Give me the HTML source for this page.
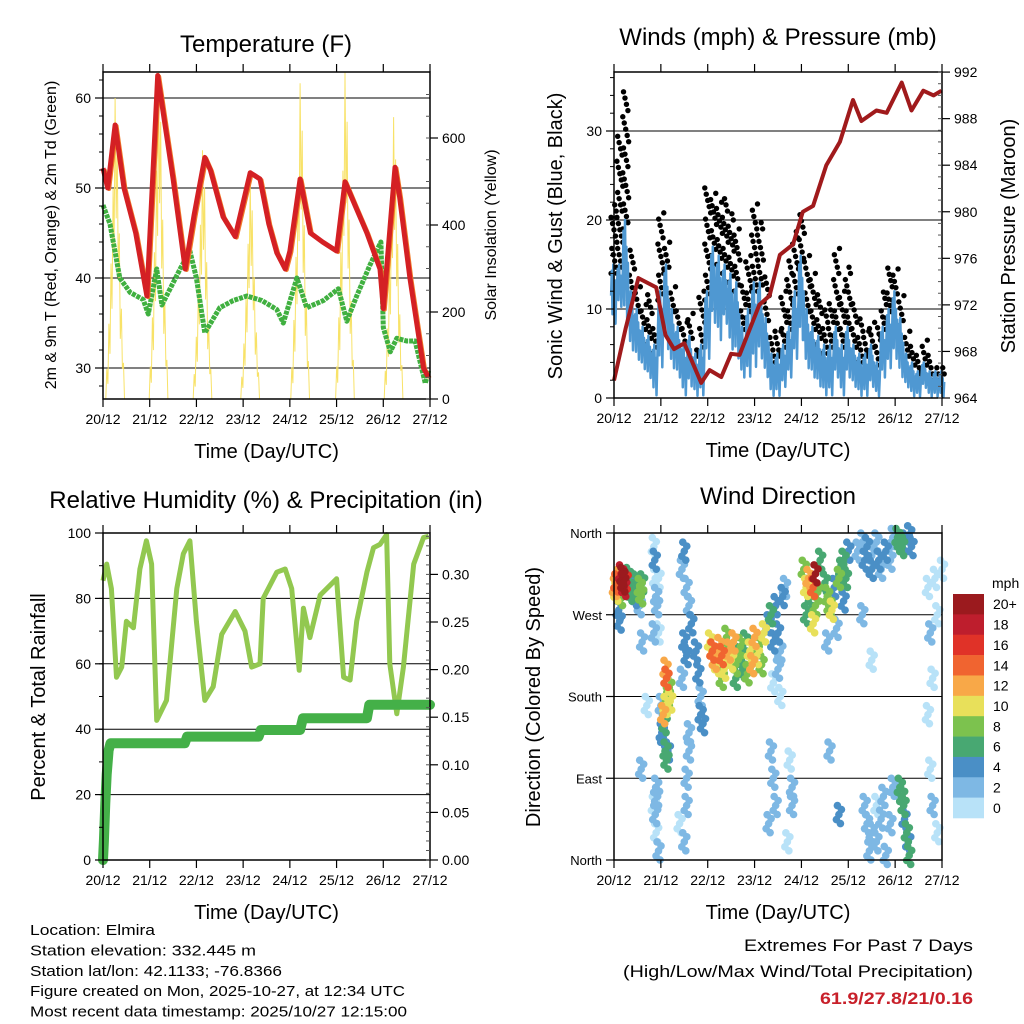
<!DOCTYPE html>
<html><head><meta charset="utf-8"><style>
html,body{margin:0;padding:0;background:#fff}
svg{display:block;font-family:"Liberation Sans",sans-serif}
</style></head><body>
<svg id="root" width="1024" height="1024" viewBox="0 0 1024 1024"></svg>
<script>
// ---------- DATA ----------
const dayLabels=["20/12","21/12","22/12","23/12","24/12","25/12","26/12","27/12"];
const tTimes=[0,0.1,0.26,0.45,0.7,0.94,1.17,1.3,1.5,1.76,1.95,2.18,2.3,2.57,2.83,3.15,3.36,3.55,3.72,3.9,4.0,4.22,4.44,4.7,5.0,5.18,5.4,5.65,5.93,6.0,6.25,6.35,6.57,6.86,6.96];
const tVals=[52.2,50,57,50,45,38,62.5,58,51,41,47,53.4,52,46.8,44.6,51.7,51,46,42.8,41,43,51,45,44,43,50.7,48,45,41,36.6,52.3,49,40,30,29];
const dTimes=[0,0.15,0.36,0.58,0.86,0.97,1.15,1.26,1.65,1.86,2.0,2.18,2.5,2.79,3.08,3.4,3.72,3.86,4.15,4.36,4.72,5.04,5.22,5.43,5.72,5.95,6.0,6.15,6.29,6.5,6.68,6.9,6.97];
const dVals=[48.1,46,40,38.4,37.6,36,41,37,41,43,40,33.9,36.7,37.5,38,37.5,36.5,35,40,36.7,37.5,38.8,35.2,38,41.5,44,34.5,31.8,33.3,33,33,28.3,29.7];
const solarPeakDays=[0.26,1.19,2.13,3.15,4.22,5.18,6.22];
const solarPeaks=[692,750,572,510,726,750,648];
const windTimes=[0,0.125,0.25,0.375,0.5,0.625,0.75,0.875,1,1.125,1.25,1.375,1.5,1.625,1.75,1.875,2,2.125,2.25,2.375,2.5,2.625,2.75,2.875,3,3.125,3.25,3.375,3.5,3.625,3.75,3.875,4,4.125,4.25,4.375,4.5,4.625,4.75,4.875,5,5.125,5.25,5.375,5.5,5.625,5.75,5.875,6,6.125,6.25,6.375,6.5,6.625,6.75,6.875,7];
const windLow=[8,10,8,5,4,3,2,0,3,5,3,2,0,1,0,0,4,8,6,8,5,4,2,2,3,4,2,0,0,1,2,4,6,3,2,1,0,0,2,0,2,1,0,0,1,0,2,3,4,2,1,0,0,1,0,0,0];
const windHigh=[15,15,20,12,10,8,7,6,12,15,10,8,6,7,5,6,12,17,16,15,14,13,8,10,13,13,9,5,5,6,8,12,16,10,8,7,6,6,8,6,8,6,5,5,6,4,8,10,12,9,5,4,3,4,3,3,3];
const gust=[22,30,35,17,13,11,12,8,21,18,13,10,9,10,6,12,24,23,22,23,21,19,13,16,22,20,14,8,8,12,16,19,21,16,14,12,10,11,17,12,15,11,9,8,9,8,12,15,15,12,8,6,5,7,5,4,4];
const pTimes=[0,0.25,0.52,0.9,1.1,1.28,1.5,1.86,2.04,2.29,2.5,2.68,3.1,3.32,3.54,3.82,4.03,4.25,4.53,4.82,5.1,5.28,5.6,5.82,6.14,6.35,6.6,6.82,6.99];
const pVals=[965.5,970,974.3,973.5,969.4,968.2,968.7,965.3,966.4,965.8,967.8,967.7,972,972.8,976.3,977.2,980,980.5,984,986,989.6,987.8,988.7,988.5,991.1,988.7,990.4,990,990.4];
const rhTimes=[0,0.08,0.18,0.29,0.4,0.5,0.65,0.79,0.93,1.04,1.15,1.36,1.58,1.72,1.86,2.0,2.18,2.36,2.54,2.83,3.04,3.18,3.36,3.43,3.72,3.9,4.04,4.2,4.29,4.43,4.65,5.0,5.15,5.29,5.43,5.65,5.79,5.93,6.07,6.14,6.29,6.43,6.65,6.86,6.97];
const rhVals=[85.4,90.5,83,55.9,59,73,71,89,97.6,90.5,42.7,48.8,83,93.6,97.6,73,48.8,53,69,76,70,59,60,80,88,89,83,58,77,68,81,86,55.9,55,73,88,95.5,96.5,99.5,60,44.7,59,90.5,98.6,99];
const prTimes=[0,0.02,0.05,0.08,0.12,0.16,1.75,1.8,3.33,3.38,4.22,4.28,5.65,5.7,7.0];
const prVals=[0,0.02,0.06,0.09,0.115,0.1226,0.1226,0.1296,0.1296,0.1366,0.1366,0.149,0.149,0.163,0.163];
const dirPoints=[[0.02,300,12],[0.05,305,14],[0.05,295,10],[0.1,310,12],[0.12,298,9],[0.15,315,18],[0.18,312,20],[0.2,305,20],[0.22,300,18],[0.25,308,16],[0.15,290,8],[0.3,312,7],[0.32,300,6],[0.35,295,7],[0.4,300,5],[0.45,305,6],[0.5,296,7],[0.55,300,8],[0.58,292,8],[0.6,305,6],[0.45,290,4],[0.1,275,5],[0.12,263,4],[0.55,280,3],
[0.85,345,1],[0.87,330,4],[0.88,310,1],[0.9,290,2],[0.92,280,2],[0.95,310,1],[0.85,250,2],[0.6,240,2],[0.95,250,1],[0.58,100,2],[0.7,170,1],
[0.9,80,2],[0.88,50,2],[0.9,30,1],[0.95,10,2],[0.85,60,1],[0.92,70,3],
[1.1,210,12],[1.12,200,14],[1.15,180,9],[1.1,170,10],[1.05,160,13],[1.08,150,6],[1.05,135,5],[1.1,120,6],[1.12,110,7],[1.18,190,8],[1.2,175,10],[1.15,120,5],[1.0,170,3],[1.02,140,4],
[1.45,320,3],[1.5,340,4],[1.55,300,2],[1.6,280,3],[1.65,260,4],[1.5,240,4],[1.55,225,4],[1.45,200,3],[1.75,230,4],[1.8,205,4],[1.85,180,3],[1.85,160,4],[1.9,150,4],[1.6,140,2],[1.55,90,2],[1.55,60,2],[1.4,40,1],[1.5,20,2],[1.6,120,2],
[2.05,240,10],[2.1,230,14],[2.15,220,12],[2.2,215,10],[2.25,235,12],[2.3,225,14],[2.35,210,10],[2.4,245,8],[2.45,230,12],[2.5,220,10],[2.55,240,12],[2.6,215,8],[2.65,225,7],[2.7,235,8],[2.75,210,6],[2.8,240,7],[2.9,230,10],[2.95,215,12],[3.0,245,13],[3.05,225,11],[3.1,235,9],[3.15,215,8],[3.2,250,10],[2.3,200,8],[2.6,200,6],[2.85,205,9],
[3.3,260,5],[3.35,270,6],[3.4,240,4],[3.45,280,5],[3.5,250,4],[3.55,230,3],[3.6,290,4],[3.65,300,2],[3.5,210,2],[3.4,195,1],[3.55,180,1],
[3.35,120,2],[3.4,90,3],[3.45,60,2],[3.75,110,1],[3.8,80,2],[3.8,60,3],[3.3,40,3],[3.7,20,1],
[4.05,320,8],[4.1,300,10],[4.15,310,12],[4.2,290,6],[4.25,300,14],[4.3,315,20],[4.3,280,8],[4.35,295,9],[4.1,270,6],[4.25,260,10],[4.4,330,6],[4.5,305,7],[4.55,290,8],[4.6,280,8],[4.65,275,10],[4.7,300,4],[4.8,310,8],[4.85,320,7],[4.9,330,7],[4.95,310,6],[4.9,285,4],[5.0,340,4],[4.75,255,3],[4.55,240,3],
[5.2,340,3],[5.3,350,2],[5.35,330,4],[5.4,345,4],[5.5,335,3],[5.6,350,2],[5.7,320,2],[5.8,340,4],[5.9,330,2],[5.95,355,3],[5.5,320,4],[5.65,330,4],[5.3,270,2],[5.5,220,1],
[6.05,355,6],[6.1,350,6],[6.15,345,7],[6.2,350,5],[6.3,358,5],[6.35,345,4],
[5.35,60,3],[5.4,40,2],[5.45,10,3],[5.5,30,2],[5.6,20,3],[5.7,45,2],[5.75,70,3],[5.8,5,2],[5.6,60,1],[5.9,40,2],[5.95,80,2],[4.6,120,2],[4.8,50,4],
[6.1,80,6],[6.15,70,7],[6.18,60,6],[6.2,45,5],[6.25,30,6],[6.28,20,5],[6.3,5,6],
[6.7,300,1],[6.75,250,2],[6.8,200,1],[6.7,160,1],[6.75,100,1],[6.8,60,2],[6.9,30,1],[6.85,310,1],[6.9,270,1],[7.0,320,1]];
const speedLabels=["20+","18","16","14","12","10","8","6","4","2","0"];
const speedColors=["#9b1a1e","#be1e2d","#e03228","#f06430","#f8a848","#e8e05a","#7cc24e","#48a872","#4a8fc6","#7eb8e4","#b8e2f8"];

// ---------- HELPERS ----------
const NS="http://www.w3.org/2000/svg";
const root=document.getElementById('root');
function mk(tag,attrs,parent){const e=document.createElementNS(NS,tag);for(const k in attrs)e.setAttribute(k,attrs[k]);(parent||root).appendChild(e);return e;}
function txt(s,x,y,size,anchor,parent,extra){const e=mk('text',Object.assign({x:x,y:y,'font-size':size,'text-anchor':anchor||'middle',fill:'#000'},extra||{}),parent);e.textContent=s;return e;}
function path(pts){return pts.map((p,i)=>(i?'L':'M')+p[0].toFixed(1)+','+p[1].toFixed(1)).join('');}
function panel(name){
  const g=mk('g',{});
  
  
  return g;
}
function frame(g,L,R,T,B){
  const r=mk('rect',{x:L,y:T,width:R-L,height:B-T,fill:'none',stroke:'#000','stroke-width':1.5},g);
  
  
}
function xAxis(g,L,R,T,B,xf){
  const ax=mk('g',{},g);
  
  
  for(let d=0;d<=7;d++){
    const x=xf(d);
    mk('line',{x1:x,x2:x,y1:B,y2:B+8,stroke:'#000','stroke-width':1.2},ax);
    mk('line',{x1:x,x2:x,y1:T,y2:T-8,stroke:'#000','stroke-width':1.2},ax);
    const t=txt(dayLabels[d],x,B+25,14,'middle',ax);
    
    
  }
  const tt=txt('Time (Day/UTC)',(L+R)/2,B+59,20,'middle',ax);
  
  
}
function grid(g,L,R,ys){ys.forEach(y=>mk('line',{x1:L,x2:R,y1:y,y2:y,stroke:'#000','stroke-width':1},g));}
function yTicks(g,side,X,vals,yf,labels,minor,size){
  vals.forEach((v,i)=>{
    const y=yf(v);
    if(side==='L'){mk('line',{x1:X-8,x2:X,y1:y,y2:y,stroke:'#000','stroke-width':1.2},g);
      const t=txt(labels[i],X-12,y+5,size||14,'end',g);}
    else{mk('line',{x1:X,x2:X+8,y1:y,y2:y,stroke:'#000','stroke-width':1.2},g);
      const t=txt(labels[i],X+12,y+5,size||14,'start',g);}
  });
  (minor||[]).forEach(v=>{const y=yf(v);
    if(side==='L')mk('line',{x1:X-4,x2:X,y1:y,y2:y,stroke:'#000','stroke-width':1},g);
    else mk('line',{x1:X-4,x2:X,y1:y,y2:y,stroke:'#555','stroke-width':1},g);});
}
function rotLabel(g,s,x,y,size,name){
  const t=txt(s,x,y,size,'middle',g,{transform:'rotate(-90 '+x+' '+y+')'});
  
  
}
function range(a,b,s){const r=[];for(let v=a;v<=b+1e-9;v+=s)r.push(+v.toFixed(4));return r;}

// ---------- PANEL 1: TEMPERATURE ----------
(function(){
  const L=103,R=430,T=72,B=399;
  const x=d=>L+d*(R-L)/7, y=v=>368-(v-30)*9, ys=s=>B-s*0.435;
  const g=panel('temperature-panel');
  const ti=txt('Temperature (F)',266,52,24,'middle',g);
  
  
  grid(g,L,R,[30,40,50,60].map(y));
  const sg=mk('g',{},g);
  
  
  const shape=[0,0.1,0.05,0.25,0.15,0.45,0.3,0.7,0.5,1,0.6,0.85,0.4,0.55,0.2,0.3,0.1,0.12,0];
  solarPeakDays.forEach((c,i)=>{
    const n=shape.length-1;
    const pts=shape.map((f,k)=>[x(c-0.2+0.4*k/n),ys(solarPeaks[i]*f)]);
    const p=mk('path',{d:path(pts),fill:'none',stroke:'#f8e060','stroke-width':1,opacity:0.95},sg);
    
    
  });
  const td=mk('path',{d:path(dTimes.map((t,i)=>[x(t),y(dVals[i])])),fill:'none',stroke:'#40b040','stroke-width':5,'stroke-dasharray':'4 1','stroke-linejoin':'round'},g);
  
  
  const t9=mk('path',{d:path(tTimes.map((t,i)=>[x(t)+1.5,y(tVals[i])+1])),fill:'none',stroke:'#f07a28','stroke-width':4,'stroke-linejoin':'round'},g);
  
  
  const t2=mk('path',{d:path(tTimes.map((t,i)=>[x(t),y(tVals[i])])),fill:'none',stroke:'#d42024','stroke-width':5,'stroke-linejoin':'round'},g);
  
  
  frame(g,L,R,T,B);
  yTicks(g,'L',L,[30,40,50,60],y,['30','40','50','60'],range(28,62,2));
  yTicks(g,'R',R,[0,200,400,600],ys,['0','200','400','600'],range(0,700,50));
  xAxis(g,L,R,T,B,x);
  rotLabel(g,'2m & 9m T (Red, Orange) & 2m Td (Green)',56,235,16,'y-axis-title');
  rotLabel(g,'Solar Insolation (Yellow)',496,235,16,'y2-axis-title');
})();

// ---------- PANEL 2: WINDS ----------
(function(){
  const L=614,R=942,T=72,B=398;
  const x=d=>L+d*(R-L)/7, y=v=>B-v*8.9, yp=p=>B-(p-964)*11.64;
  const g=panel('winds-pressure-panel');
  const ti=txt('Winds (mph) & Pressure (mb)',778,45,24,'middle',g);
  
  
  grid(g,L,R,[10,20,30].map(y));
  const gg=mk('g',{},g);
  
  
  const step=(R-L)/7*0.125;
  windTimes.forEach((t,i)=>{
    const hi=windHigh[i],gu=gust[i];
    let k=0;
    for(let v=hi-1;v<=gu;v+=0.7){
      const c=mk('circle',{cx:x(t)+(((k*7)%9)/8-0.5)*step,cy:y(Math.min(v,gu)),r:2.7,fill:'#000'},gg);
      
      
      k++;
    }
  });
  const wg=mk('g',{},g);
  
  
  const zz=[];
  windTimes.forEach((t,i)=>{
    const lo=windLow[i],hi=windHigh[i];
    const fr=[0.5,0.9,0.2,1,0.4,0.75,0.05,0.6];
    fr.forEach((f,k)=>zz.push([x(t)-step/2+step*k/fr.length,y(lo+(hi-lo)*f)]));
  });
  const wl=mk('path',{d:path(zz),fill:'none',stroke:'#4f98d2','stroke-width':2.5,'stroke-linejoin':'round'},wg);
  
  
  const pl=mk('path',{d:path(pTimes.map((t,i)=>[x(t),yp(pVals[i])])),fill:'none',stroke:'#a01a1c','stroke-width':4,'stroke-linejoin':'round'},g);
  
  
  frame(g,L,R,T,B);
  yTicks(g,'L',L,[0,10,20,30],y,['0','10','20','30'],range(0,36,2));
  yTicks(g,'R',R,[964,968,972,976,980,984,988,992],yp,['964','968','972','976','980','984','988','992'],range(964,992,1));
  xAxis(g,L,R,T,B,x);
  rotLabel(g,'Sonic Wind & Gust (Blue, Black)',562,236,20,'y-axis-title');
  rotLabel(g,'Station Pressure (Maroon)',1015,236,20,'y2-axis-title');
})();

// ---------- PANEL 3: RH & PRECIP ----------
(function(){
  const L=103,R=430,T=533,B=860;
  const x=d=>L+d*(R-L)/7, y=v=>B-v*3.27, yr=v=>B-v*952;
  const g=panel('humidity-precip-panel');
  const ti=txt('Relative Humidity (%) & Precipitation (in)',266,508,24,'middle',g);
  
  
  grid(g,L,R,[20,40,60,80].map(y));
  const rh=mk('path',{d:path(rhTimes.map((t,i)=>[x(t),y(rhVals[i])])),fill:'none',stroke:'#92c850','stroke-width':5,'stroke-linejoin':'round'},g);
  
  
  const pr=mk('path',{d:path(prTimes.map((t,i)=>[x(t),yr(prVals[i])])),fill:'none',stroke:'#44b048','stroke-width':10,'stroke-linejoin':'round','stroke-linecap':'round'},g);
  
  
  frame(g,L,R,T,B);
  yTicks(g,'L',L,[0,20,40,60,80,100],y,['0','20','40','60','80','100'],range(0,100,10));
  yTicks(g,'R',R,[0,0.05,0.1,0.15,0.2,0.25,0.3],yr,['0.00','0.05','0.10','0.15','0.20','0.25','0.30'],range(0,0.34,0.01));
  xAxis(g,L,R,T,B,x);
  rotLabel(g,'Percent & Total Rainfall',45,697,20,'y-axis-title');
})();

// ---------- PANEL 4: WIND DIRECTION ----------
(function(){
  const L=614,R=942,T=533,B=860;
  const x=d=>L+d*(R-L)/7, y=v=>B-v*(B-T)/360;
  const g=panel('wind-direction-panel');
  const ti=txt('Wind Direction',778,504,24,'middle',g);
  
  
  grid(g,L,R,[90,180,270].map(y));
  const pg=mk('g',{},g);
  
  
  const sorted=dirPoints.slice().sort((a,b)=>a[2]-b[2]);
  const jit=[[0,0],[2.5,-5],[-2.5,5],[1.5,9],[-1.5,-9]];
  sorted.forEach(p=>{
    const idx=10-Math.min(10,Math.floor(p[2]/2));
    jit.forEach(j=>{
      const c=mk('circle',{cx:x(p[0])+j[0],cy:y(p[1])+j[1],r:3.8,fill:speedColors[idx]},pg);
      
      
    });
  });
  frame(g,L,R,T,B);
  yTicks(g,'L',L,[0,90,180,270,360],y,['North','East','South','West','North'],[],13);
  xAxis(g,L,R,T,B,x);
  rotLabel(g,'Direction (Colored By Speed)',540,697,20,'y-axis-title');
  const cb=mk('g',{},g);
  
  
  const mt=txt('mph',992,588,14,'start',cb);
  
  
  const h=(818-594)/11;
  speedLabels.forEach((s,i)=>{
    const r=mk('rect',{x:953,y:594+i*h,width:31,height:h+0.3,fill:speedColors[i]},cb);
    
    
    const t=txt(s,993,594+i*h+h/2+5,14,'start',cb);
    
    
  });
})();

// ---------- FOOTER ----------
(function(){
  const g=mk('g',{});
  
  
  const lines=["Location: Elmira","Station elevation: 332.445 m","Station lat/lon: 42.1133; -76.8366","Figure created on Mon, 2025-10-27, at 12:34 UTC","Most recent data timestamp: 2025/10/27 12:15:00"];
  const widths=[125,226,252,375,377];
  lines.forEach((s,i)=>{
    const t=txt(s,30,935+i*20.4,15,'start',g,{textLength:widths[i],lengthAdjust:'spacingAndGlyphs'});
    
    
  });
  const e=mk('g',{});
  
  
  const a=txt('Extremes For Past 7 Days',973,951,17,'end',e,{textLength:229,lengthAdjust:'spacingAndGlyphs'});
  
  
  const b=txt('(High/Low/Max Wind/Total Precipitation)',973,977,17,'end',e,{textLength:350,lengthAdjust:'spacingAndGlyphs'});
  
  
  const c=txt('61.9/27.8/21/0.16',973,1004,17,'end',e,{fill:'#c8202a','font-weight':'bold',textLength:153,lengthAdjust:'spacingAndGlyphs'});
  
  
})();
</script>
</body></html>
